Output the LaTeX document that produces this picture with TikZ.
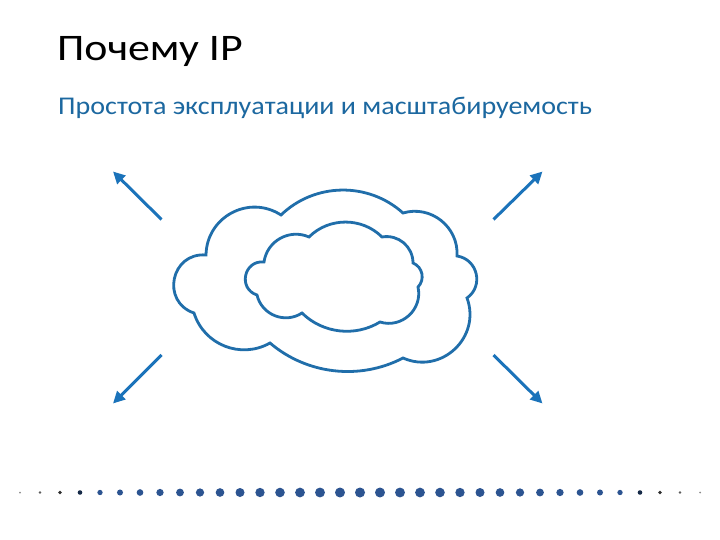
\documentclass[tikz,border=0pt]{standalone}
\usepackage{fontspec}
\usepackage{graphicx}
\setmainfont{Carlito}
\usetikzlibrary{arrows.meta}
\definecolor{cloudblue}{RGB}{32,110,170}
\definecolor{arrowblue}{RGB}{27,115,186}
\definecolor{subblue}{RGB}{28,104,160}
\definecolor{dotblue}{RGB}{44,84,145}
\tikzset{
  cloudline/.style={draw=cloudblue, line width=2.8pt, line join=miter},
  outarrow/.style={draw=arrowblue, line width=3pt, -{Triangle[length=12pt,width=11.5pt]}},
}
\begin{document}
\begin{tikzpicture}[x=1pt,y=-1pt]
\useasboundingbox[fill=white] (0,0) rectangle (720,540);
% texts
\node[anchor=base west, inner sep=0pt, font=\fontsize{37.5}{45}\selectfont] (title) at (57,61) {\scalebox{1.17}[1]{Почему IP}};
\node[anchor=base west, inner sep=0pt, font=\fontsize{25.5}{31}\selectfont, text=subblue] (subtitle) at (58,115) {\scalebox{1.1}[1]{Простота эксплуатации и масштабируемость}};
% outer cloud
\draw[cloudline] (281,215)
  to[bend left=43, looseness=0.98] (403,213)
  to[bend left=55, looseness=1.08] (457,256)
  to[bend left=68, looseness=1.24] (467,298)
  to[bend left=67, looseness=1.22] (403,358)
  to[bend left=34, looseness=0.93] (270,343)
  to[bend left=51, looseness=1.05] (194,313)
  to[bend left=83, looseness=1.52] (206,255)
  to[bend left=61, looseness=1.15] (281,215) -- cycle;
% inner cloud
\draw[cloudline] (309,237)
  to[bend left=45, looseness=0.99] (382,237)
  to[bend left=50, looseness=1.04] (413,263)
  to[bend left=56, looseness=1.09] (418,287)
  to[bend left=60, looseness=1.13] (380,322)
  to[bend left=38, looseness=0.95] (302,313)
  to[bend left=55, looseness=1.08] (257,295)
  to[bend left=84, looseness=1.54] (264,262)
  to[bend left=53, looseness=1.06] (309,237) -- cycle;
% arrows
\coordinate (tls) at (161.5,219.5); \coordinate (tle) at (113,171.5);
\coordinate (trs) at (493.5,219.5); \coordinate (tre) at (542.5,171.5);
\coordinate (bls) at (161.5,355); \coordinate (ble) at (113,403.5);
\coordinate (brs) at (493.5,355); \coordinate (bre) at (542.5,403.5);
\draw[outarrow] (tls) -- (tle);
\draw[outarrow] (trs) -- (tre);
\draw[outarrow] (bls) -- (ble);
\draw[outarrow] (brs) -- (bre);
% dotted row
\foreach \i in {0,...,34}{
  \pgfmathtruncatemacro\k{abs(\i-17)}
  \pgfmathsetmacro\t{(17-\k)/17}
  \pgfmathsetmacro\r{(2+8*(1-(1-\t)*(1-\t)))/2}
  \pgfmathtruncatemacro\p{max(0,min(100,(15-\k)*50))}
  \pgfmathtruncatemacro\q{min(100,100-(\k-14)*18)}
  \colorlet{dc}{dotblue!\p!black}
  \fill[dc!\q!white] (20+20*\i,492.5) circle (\r pt);
}
\end{tikzpicture}
\end{document}
